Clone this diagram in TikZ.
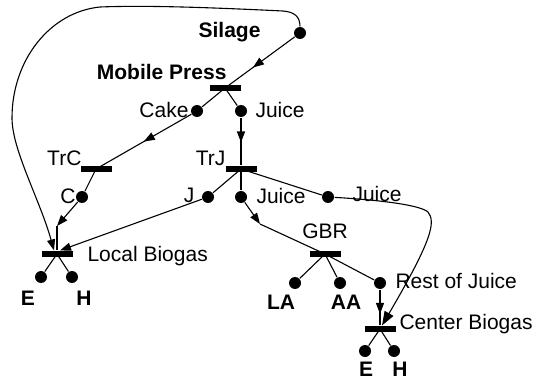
\documentclass[tikz,border=0pt]{standalone}
\usepackage{fontspec}
\setmainfont{Liberation Sans}
\usetikzlibrary{arrows.meta,decorations.markings}
\begin{document}
\begin{tikzpicture}[x=1pt,y=-1pt,
  line width=1.1pt,
  dot/.style={circle,fill=black,inner sep=0pt,minimum size=12pt},
  bar/.style={rectangle,fill=black,inner sep=0pt,minimum width=31pt,minimum height=6pt},
  lbl/.style={inner sep=0pt,font=\fontsize{21}{25}\selectfont},
  blbl/.style={inner sep=0pt,font=\fontsize{21}{25}\selectfont\bfseries},
  arr/.style={-{Triangle[length=11pt,width=8pt]}},
  bigarr/.style={-{Triangle[length=14pt,width=10pt]}},
  midarrow/.style={postaction={decorate},decoration={markings,mark=at position #1 with {\arrow{Triangle[length=11pt,width=8pt]}}}},
]
\useasboundingbox (0,0) rectangle (535,382);

% dots
\node[dot] (silage) at (300,33) {};
\node[dot] (cake) at (197,111) {};
\node[dot] (juice1) at (241,111) {};
\node[dot] (c) at (82,197) {};
\node[dot] (j) at (208,197) {};
\node[dot] (juice2) at (241,197) {};
\node[dot] (juice3) at (328,197) {};
\node[dot] (lbE) at (41,277) {};
\node[dot] (lbH) at (72,277) {};
\node[dot] (la) at (295,283) {};
\node[dot] (aa) at (340,283) {};
\node[dot] (rest) at (380,283) {};
\node[dot] (cbE) at (365,351) {};
\node[dot] (cbH) at (394,351) {};

% bars
\node[bar] (mp) at (225,88) {};
\node[bar] (trc) at (96,169) {};
\node[bar] (trj) at (241,169) {};
\node[bar] (lb) at (57,254) {};
\node[bar] (gbr) at (325,254) {};
\node[bar] (cb) at (380,329) {};

% labels
\node[blbl,anchor=base east] (tSilage) at (261,38) {Silage};
\node[blbl,anchor=base east] (tMP) at (227,80) {Mobile Press};
\node[lbl,anchor=base east] (tCake) at (189,118) {Cake};
\node[lbl,anchor=base west] (tJuice1) at (255,118) {Juice};
\node[lbl,anchor=base east] (tTrJ) at (226,166) {TrJ};
\node[lbl,anchor=base east] (tTrC) at (82,166) {TrC};
\node[lbl,anchor=base east] (tC) at (76,204) {C};
\node[lbl,anchor=base east] (tJ) at (195,203) {J};
\node[lbl,anchor=base west] (tJuice2) at (256,204) {Juice};
\node[lbl,anchor=base west] (tJuice3) at (352,201) {Juice};
\node[lbl,anchor=base] (tGBR) at (325,238) {GBR};
\node[lbl,anchor=base west] (tLB) at (87,261) {Local Biogas};
\node[blbl,anchor=base] (tLE) at (28,305) {E};
\node[blbl,anchor=base] (tLH) at (84,305) {H};
\node[blbl,anchor=base] (tLA) at (281,309) {LA};
\node[blbl,anchor=base] (tAA) at (346,309) {AA};
\node[lbl,anchor=base west] (tRest) at (395,288) {Rest of Juice};
\node[lbl,anchor=base west] (tCB) at (399,329) {Center Biogas};
\node[blbl,anchor=base] (tCE) at (366,376) {E};
\node[blbl,anchor=base] (tCH) at (400,376) {H};

% connectors
\draw[midarrow=0.6] (silage) -- (mp.center);
\draw (mp.center) -- (cake);
\draw[midarrow=0.5] (cake) -- (trc.center);
\draw (mp.center) -- (juice1);
\draw[midarrow=0.52] (juice1) -- (trj);
\draw (trc.center) -- (c);
\coordinate (ca) at (57,226);
\draw[arr] (c) -- (ca);
\draw (ca) -- (ca |- lb.north);
\draw[arr] (silage.north) .. controls (300,17) and (295,12) .. (283,11)
  .. controls (220,8) and (150,5) .. (100,7)
  .. controls (50,12) and (12,60) .. (12,118)
  .. controls (12,150) and (40,200) .. ([xshift=-3pt]lb.north);
\draw (trj.center) -- (j);
\draw[arr] (j) -- ([xshift=3pt]lb.north);
\draw (trj.center) -- (juice2);
\coordinate (ga) at (260,224);
\draw[arr] (juice2) -- (ga);
\draw (ga) -- (gbr.center);
\draw (trj.center) -- (juice3);
\draw[bigarr] (juice3) .. controls (380,200) and (420,205) .. (428,212)
  .. controls (436,222) and (432,240) .. ([xshift=2pt]cb.north);
\draw (gbr.center) -- (la);
\draw (gbr.center) -- (aa);
\draw (gbr.center) -- (rest);
\draw[midarrow=0.68] (rest) -- (cb);
\draw (lb.center) -- (lbE);
\draw (lb.center) -- (lbH);
\draw (cb.center) -- (cbE);
\draw (cb.center) -- (cbH);
\end{tikzpicture}
\end{document}
